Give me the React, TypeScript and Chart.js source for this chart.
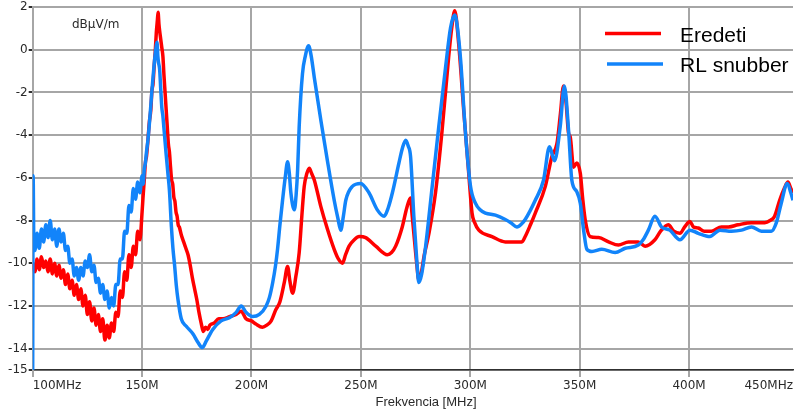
import React, { useEffect, useRef } from 'react';
import { Chart, registerables } from 'chart.js';
Chart.register(...registerables);

// [frequency MHz, level dBμV/m]
const redSeries: [number, number][] = [
  [100, -10.0], [101, -10.4], [102, -9.8], [103, -10.3], [104, -9.7], [105, -10.2], [106, -9.9], [107, -10.4],
  [108, -9.8], [109, -10.5], [110, -10.0], [111, -10.6], [112, -10.1], [113, -10.7], [114, -10.3], [115, -11.0],
  [116, -10.5], [117, -11.2], [118, -10.8], [119, -11.5], [120, -11.0], [121, -11.7], [122, -11.2], [123, -12.0],
  [124, -11.5], [125, -12.4], [126, -11.8], [127, -12.7], [128, -12.1], [129, -12.9], [130, -12.4], [131, -13.2],
  [132, -12.6], [133, -13.6], [134, -12.9], [135, -13.5], [136, -12.8], [137, -13.2], [138, -12.3], [139, -12.5],
  [140, -11.3], [141, -11.6], [142, -10.4], [143, -10.8], [144, -9.6], [145, -10.2], [146, -9.2], [147, -9.6],
  [148, -8.5], [149, -8.9], [150, -7.6], [150.5, -6.8], [151, -6.1], [151.5, -5.3], [152, -5.0], [152.7, -4.2],
  [153.3, -3.4], [154, -2.8], [154.5, -1.9], [155, -1.6], [155.5, -0.8], [156, -0.1], [156.5, 0.8], [157, 1.4],
  [157.3, 1.75], [157.7, 1.2], [158, 0.9], [158.5, 0.5], [159, 0.1], [159.5, -0.3], [160, -1.2], [160.5, -2.0],
  [161, -2.8], [161.5, -3.6], [162, -4.4], [162.5, -4.8], [163, -5.5], [163.5, -6.1], [164, -6.3], [164.5, -6.9],
  [165, -7.1], [165.5, -7.6], [166, -7.8], [166.5, -8.2], [167, -8.3], [168, -8.7], [169, -9.0], [170, -9.3],
  [171, -9.6], [172, -10.1], [173, -10.7], [174, -11.2], [175, -11.7], [176, -12.3], [177, -12.8], [178, -13.2],
  [179, -13.0], [180, -13.1], [181, -12.9], [183, -12.8], [185, -12.6], [187, -12.6], [190, -12.5], [193, -12.4],
  [195.3, -12.25], [197.5, -12.6], [200, -12.7], [202, -12.85], [205, -13.0], [207, -12.9], [209, -12.7],
  [211, -12.2], [213, -11.8], [215, -10.9], [216.5, -10.15], [217.5, -10.8], [218.8, -11.4], [220.3, -10.6],
  [221.8, -9.5], [223, -7.8], [224.1, -6.4], [225.3, -5.8], [226.4, -5.55], [227.5, -5.8], [228.7, -6.1],
  [231.7, -7.35], [234.7, -8.4], [237.8, -9.35], [239.7, -9.8], [241.6, -10.0], [243, -9.6], [244.6, -9.2],
  [247, -8.9], [249.2, -8.75], [252.2, -8.8], [256.8, -9.2], [262.1, -9.6], [264, -9.5], [265.9, -9.2],
  [268.9, -8.3], [271, -7.4], [272.7, -6.95], [273.3, -7.6], [274.2, -8.6], [275.5, -10.0], [276.5, -10.8],
  [277.5, -10.5], [279, -9.6], [281.1, -8.6], [284.1, -6.7], [287.1, -3.8], [290.1, -0.36], [291.5, 1.0],
  [292.9, 1.82], [294.7, 0.27], [297, -2.85], [299.3, -5.8], [300.8, -7.65], [302, -8.1], [303.9, -8.45],
  [309.9, -8.75], [316, -9.0], [320, -9.0], [323.6, -9.0], [325.1, -8.75], [327.5, -8.2], [329.7, -7.65],
  [334.3, -6.4], [337.3, -5.0], [339.6, -4.4], [341.2, -3.0], [342.6, -1.7], [343.8, -2.5], [344.9, -3.9],
  [345.7, -4.1], [347.2, -5.5], [348.7, -5.3], [350.3, -5.8], [351.4, -7.0], [352.5, -7.95], [354.8, -8.75],
  [358.6, -8.8], [363.2, -9.0], [367.7, -9.15], [372.3, -9.0], [376.8, -9.0], [379.9, -9.2], [384.4, -8.9],
  [387, -8.5], [390.5, -8.2], [393, -8.5], [395.8, -8.6], [398, -8.3], [400.4, -8.05], [402, -8.3],
  [404.2, -8.35], [407, -8.5], [410.2, -8.5], [414.8, -8.3], [418, -8.3], [422.4, -8.2], [428.5, -8.1],
  [434.6, -8.1], [437, -8.0], [439.1, -7.8], [441.4, -7.05], [443.5, -6.5], [445.2, -6.2], [446.5, -6.5],
  [447.5, -6.7],
];

const blueSeries: [number, number][] = [
  [100, -15], [100.2, -5.9], [100.5, -8.9], [101, -9.4], [102, -8.6], [103, -9.3], [104, -8.4], [105, -9.0],
  [106, -8.2], [107, -8.8], [108, -8.0], [109, -8.9], [110, -8.4], [111, -9.2], [112, -8.4], [113, -9.0],
  [114, -8.6], [115, -9.4], [116, -9.2], [117, -10.0], [118, -9.8], [119, -10.6], [120, -10.2], [121, -10.8],
  [122, -10.2], [123, -10.6], [124, -9.9], [125, -10.2], [126, -9.6], [127, -10.4], [128, -10.1], [129, -10.9],
  [130, -10.7], [131, -11.4], [132, -11.0], [133, -11.7], [134, -11.3], [135, -12.1], [136, -11.6], [137, -12.0],
  [138, -11.0], [139, -11.0], [140, -9.8], [141, -9.8], [142, -8.5], [143, -8.6], [144, -7.3], [145, -7.6],
  [146, -6.5], [147, -7.0], [148, -6.2], [149, -6.7], [150, -5.9], [150.5, -6.3], [151, -5.6], [151.5, -5.3],
  [152, -4.8], [152.7, -4.2], [153.3, -3.5], [154, -2.6], [154.5, -1.9], [155, -1.3], [155.5, -0.7], [156, -0.2],
  [156.5, 0.2], [156.8, 0.35], [157.2, -0.3], [157.5, -0.6], [158, -0.9], [158.5, -1.8], [159, -2.7],
  [159.5, -3.1], [160, -3.7], [160.5, -4.3], [161, -4.9], [161.8, -5.8], [162.5, -6.6], [163.4, -8.3],
  [164.1, -9.3], [164.9, -10.15], [165.6, -11.0], [166.4, -11.7], [167.9, -12.6], [170.2, -12.95],
  [173.2, -13.3], [175.5, -13.7], [177.5, -13.95], [179.3, -13.65], [182.3, -13.1], [186.1, -12.7],
  [189.9, -12.55], [193, -12.3], [195.3, -12.0], [197.5, -12.3], [200.5, -12.5], [203.6, -12.4], [206.7, -12.0],
  [208.2, -11.6], [209.7, -10.9], [211, -10.1], [211.9, -9.35], [213, -8.2], [214.2, -7.05], [215.4, -6.0],
  [216.5, -5.25], [217.3, -5.8], [218, -6.7], [219.6, -7.5], [220.4, -6.8], [221.1, -5.6], [221.8, -3.6],
  [223.3, -1.13], [224.6, -0.3], [226.1, 0.19], [227.3, -0.3], [228.7, -1.3], [231.7, -3.3], [234.7, -5.2],
  [237.8, -7.05], [239.5, -7.9], [240.8, -8.45], [242, -7.8], [243.1, -7.05], [246.1, -6.4], [249.9, -6.26],
  [253.7, -6.7], [257.5, -7.5], [260.6, -7.8], [262.5, -7.4], [264.4, -6.7], [267.4, -5.3], [269, -4.6],
  [270.5, -4.24], [271.6, -4.5], [272.7, -5.0], [274.2, -7.8], [275.5, -9.8], [276.5, -10.9], [277.8, -10.5],
  [279.6, -9.2], [282.6, -6.4], [285.6, -3.6], [288.7, -0.83], [291, 1.04], [292.9, 1.62], [293.8, 1.3],
  [295.6, -0.5], [297.8, -3.9], [300.1, -6.4], [302.4, -7.2], [304.5, -7.5], [306.9, -7.65], [311.5, -7.75],
  [316, -7.95], [318.5, -8.1], [321.3, -8.3], [323.5, -8.15], [325.1, -7.95], [329.7, -7.05], [333.5, -6.1],
  [336.2, -4.55], [338.5, -5.2], [341.1, -3.6], [343, -1.7], [344.9, -3.75], [346.4, -6.1], [348.7, -6.65],
  [350.3, -7.2], [351.8, -8.45], [353.3, -9.35], [355.6, -9.45], [360.1, -9.35], [366.2, -9.5], [370.8, -9.3],
  [376.8, -9.15], [379, -8.9], [381.4, -8.45], [384.4, -7.8], [387.4, -8.3], [391.2, -8.45], [395.8, -8.9],
  [400.4, -8.45], [404.2, -8.6], [409.5, -8.75], [414.1, -8.45], [419.4, -8.5], [424, -8.45], [428.5, -8.3],
  [433.1, -8.5], [437.6, -8.5], [439.9, -8.1], [442.1, -7.2], [444.9, -6.26], [446.5, -6.7], [447.5, -7.05],
];

const xTickValues = [100, 150, 200, 250, 300, 350, 400, 447.5];
const xTickLabels = ['100MHz', '150M', '200M', '250M', '300M', '350M', '400M', '450MHz'];
const yTickValues = [-15, -14, -12, -10, -8, -6, -4, -2, 0, 2];
const seriesNames = ['Eredeti', 'RL snubber'];
const seriesColors = ['rgb(255,0,0)', 'rgb(18,132,250)'];
const xTitle = 'Frekvencia [MHz]';
const yUnit = 'dBμV/m';

const GRID = '#a6a6a6';
const TEXT = '#2a2a2a';

export default function App() {
  const ref = useRef<HTMLCanvasElement>(null);

  useEffect(() => {
    document.body.style.margin = '0';
    const canvas = ref.current!;
    const overlay = {
      id: 'overlay',
      afterDraw(chart: any) {
        const ctx = chart.ctx;
        ctx.save();
        ctx.fillStyle = TEXT;
        ctx.font = '12px "DejaVu Sans"';
        ctx.textAlign = 'left';
        ctx.textBaseline = 'middle';
        ctx.fillText(yUnit, 72, 25);
        ctx.font = '13px "Liberation Sans"';
        ctx.textAlign = 'center';
        ctx.fillText(xTitle, 426, 402);
        const rows = [
          { y: 33.5, x0: 605, x1: 661 },
          { y: 64, x0: 607, x1: 663 },
        ];
        ctx.font = '21px "Liberation Sans"';
        ctx.textAlign = 'left';
        ctx.textBaseline = 'alphabetic';
        rows.forEach((r, i) => {
          ctx.strokeStyle = seriesColors[i];
          ctx.lineWidth = 3.5;
          ctx.beginPath();
          ctx.moveTo(r.x0, r.y);
          ctx.lineTo(r.x1, r.y);
          ctx.stroke();
          ctx.fillStyle = '#000';
          ctx.fillText(seriesNames[i], 680, r.y + 8.2);
        });
        ctx.restore();
      },
    };

    const chart = new Chart(canvas, {
      type: 'line',
      data: {
        datasets: [
          {
            label: seriesNames[0],
            data: redSeries.map(([x, y]) => ({ x, y })),
            borderColor: seriesColors[0],
            borderWidth: 3.5,
            pointRadius: 0,
            cubicInterpolationMode: 'monotone',
            order: 2,
          },
          {
            label: seriesNames[1],
            data: blueSeries.map(([x, y]) => ({ x, y })),
            borderColor: seriesColors[1],
            borderWidth: 3.5,
            pointRadius: 0,
            cubicInterpolationMode: 'monotone',
            order: 1,
          },
        ],
      },
      options: {
        animation: false,
        responsive: false,
        layout: { padding: { top: 6, left: 0, right: 0, bottom: 0 } },
        plugins: { legend: { display: false }, tooltip: { enabled: false } },
        scales: {
          x: {
            type: 'linear',
            min: 100,
            max: 447.5,
            afterBuildTicks: (s: any) => {
              s.ticks = xTickValues.map((v) => ({ value: v }));
            },
            afterFit: (s: any) => {
              s.height = 42;
            },
            ticks: {
              align: 'inner',
              maxRotation: 0,
              autoSkip: false,
              padding: 2,
              color: TEXT,
              font: { family: 'DejaVu Sans', size: 12 },
              callback: (v: any) => {
                const i = xTickValues.indexOf(Number(v));
                return i >= 0 ? xTickLabels[i] : '';
              },
            },
            grid: {
              color: (c: any) => (c.tick && c.tick.value > 440 ? 'rgba(0,0,0,0)' : GRID),
              tickColor: (c: any) => (c.tick && c.tick.value > 440 ? 'rgba(0,0,0,0)' : GRID),
              lineWidth: 2,
              tickLength: 7,
            },
            border: { display: true, color: '#303030', width: 1.5 },
          },
          y: {
            type: 'linear',
            min: -15,
            max: 2,
            afterBuildTicks: (s: any) => {
              s.ticks = yTickValues.map((v) => ({ value: v }));
            },
            afterFit: (s: any) => {
              s.width = 32.7;
            },
            ticks: {
              autoSkip: false,
              padding: 1,
              color: TEXT,
              font: { family: 'DejaVu Sans', size: 12, lineHeight: 1 },
            },
            grid: {
              color: GRID,
              lineWidth: 2,
              tickColor: '#303030',
              tickLength: 4,
            },
            border: { display: true, color: GRID, width: 2 },
          },
        },
      },
      plugins: [overlay],
    } as any);
    return () => chart.destroy();
  }, []);

  return (
    <div style={{ width: 795, height: 412 }}>
      <canvas ref={ref} width={795} height={412} style={{ display: 'block' }} />
    </div>
  );
}
